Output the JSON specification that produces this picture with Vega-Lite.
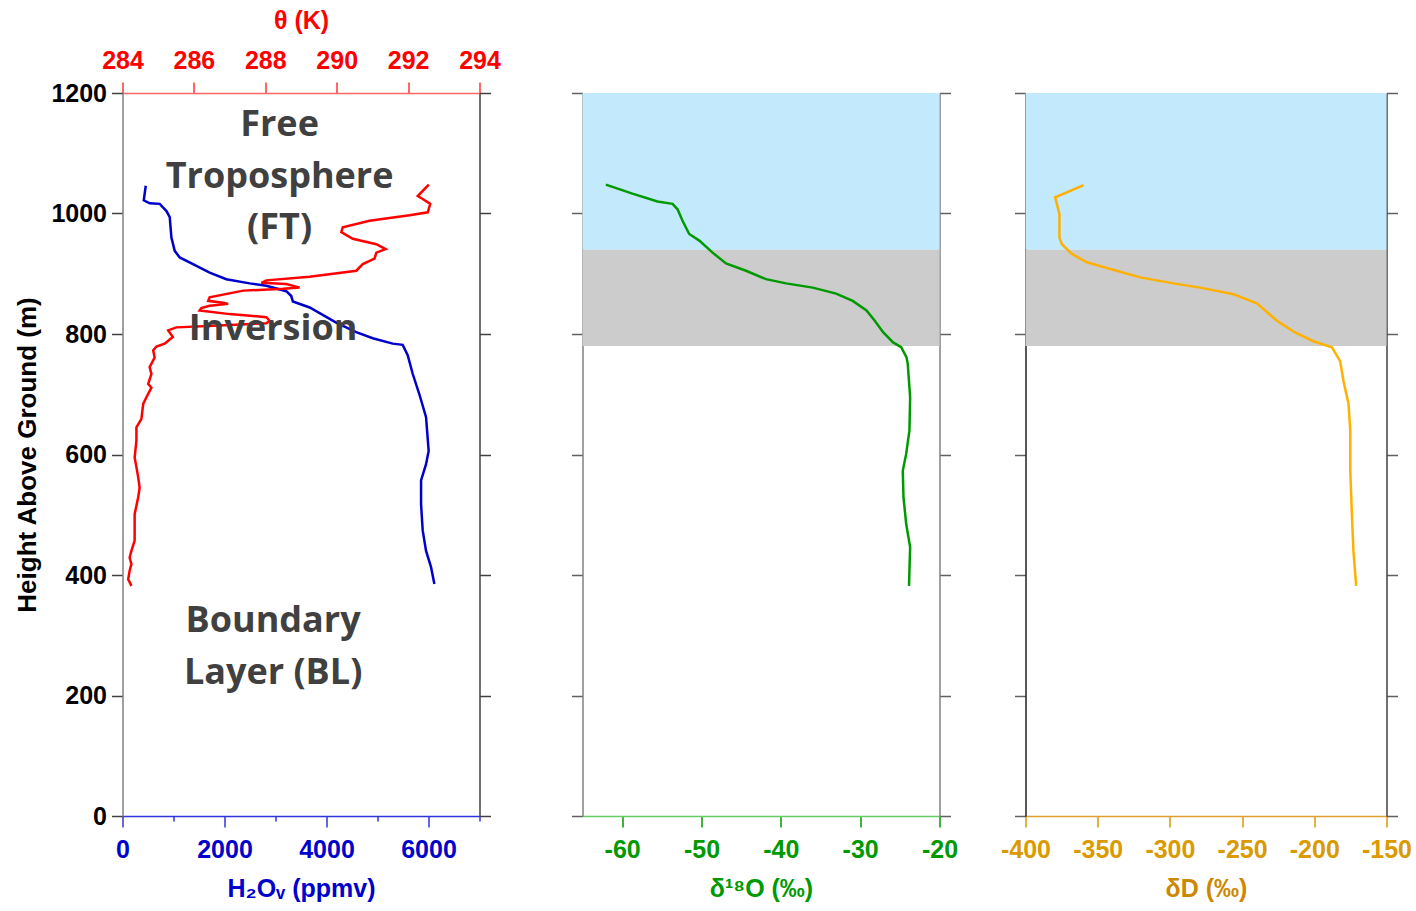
{
  "$schema": "https://vega.github.io/schema/vega-lite/v6.json",
  "background": "white",
  "padding": {"left": 14.5, "top": 8, "right": 5, "bottom": 5},
  "config": {
    "view": {"stroke": null},
    "font": "Liberation Sans",
    "axis": {
      "labelFont": "Liberation Sans", "labelFontWeight": "bold", "labelFontSize": 25,
      "titleFont": "Liberation Sans", "titleFontWeight": "bold", "titleFontSize": 25,
      "grid": false, "tickSize": 11, "domainWidth": 1.5, "tickWidth": 1.5,
      "labelFlush": false, "labelOverlap": false, "labelPadding": 6
    },
    "axisBottom": {"labelPadding": 10, "titlePadding": 14}
  },
  "datasets": {
    "h2o": [
      {"ppmv": 456, "h": 1046}, {"ppmv": 417, "h": 1022}, {"ppmv": 534, "h": 1017}, {"ppmv": 730, "h": 1016},
      {"ppmv": 862, "h": 1004}, {"ppmv": 926, "h": 994}, {"ppmv": 959, "h": 960}, {"ppmv": 1024, "h": 938},
      {"ppmv": 1122, "h": 927}, {"ppmv": 1449, "h": 913}, {"ppmv": 1709, "h": 902}, {"ppmv": 2036, "h": 891},
      {"ppmv": 2493, "h": 884}, {"ppmv": 2820, "h": 880}, {"ppmv": 3211, "h": 871}, {"ppmv": 3309, "h": 863},
      {"ppmv": 3340, "h": 854}, {"ppmv": 3670, "h": 844}, {"ppmv": 4190, "h": 819}, {"ppmv": 4582, "h": 803},
      {"ppmv": 4907, "h": 793}, {"ppmv": 5298, "h": 784}, {"ppmv": 5494, "h": 782}, {"ppmv": 5592, "h": 765},
      {"ppmv": 5690, "h": 734}, {"ppmv": 5821, "h": 700}, {"ppmv": 5952, "h": 662}, {"ppmv": 6003, "h": 606},
      {"ppmv": 5952, "h": 584}, {"ppmv": 5854, "h": 557}, {"ppmv": 5854, "h": 518}, {"ppmv": 5886, "h": 474},
      {"ppmv": 5952, "h": 440}, {"ppmv": 6050, "h": 413}, {"ppmv": 6115, "h": 385}
    ],
    "theta": [
      {"t": 292.58, "h": 1048}, {"t": 292.27, "h": 1029}, {"t": 292.41, "h": 1024}, {"t": 292.62, "h": 1016},
      {"t": 292.55, "h": 1002}, {"t": 292.04, "h": 997}, {"t": 290.92, "h": 988}, {"t": 290.17, "h": 977},
      {"t": 290.13, "h": 969}, {"t": 290.45, "h": 958}, {"t": 291.11, "h": 949}, {"t": 291.37, "h": 941},
      {"t": 291.11, "h": 935}, {"t": 291.06, "h": 925}, {"t": 290.73, "h": 916}, {"t": 290.55, "h": 905},
      {"t": 289.24, "h": 895}, {"t": 288.03, "h": 889}, {"t": 287.89, "h": 885}, {"t": 288.59, "h": 883},
      {"t": 288.96, "h": 877}, {"t": 288.5, "h": 875}, {"t": 287.38, "h": 872}, {"t": 286.44, "h": 861},
      {"t": 286.4, "h": 855}, {"t": 286.82, "h": 852}, {"t": 286.96, "h": 850}, {"t": 286.44, "h": 847},
      {"t": 286.21, "h": 843}, {"t": 286.16, "h": 839}, {"t": 287.0, "h": 833}, {"t": 288.03, "h": 828},
      {"t": 288.12, "h": 822}, {"t": 288.03, "h": 818}, {"t": 286.72, "h": 814}, {"t": 285.51, "h": 811},
      {"t": 285.28, "h": 806}, {"t": 285.41, "h": 795}, {"t": 285.18, "h": 784}, {"t": 284.95, "h": 779},
      {"t": 284.86, "h": 773}, {"t": 284.9, "h": 761}, {"t": 284.76, "h": 745}, {"t": 284.81, "h": 734},
      {"t": 284.72, "h": 717}, {"t": 284.81, "h": 711}, {"t": 284.67, "h": 695}, {"t": 284.58, "h": 684},
      {"t": 284.53, "h": 659}, {"t": 284.39, "h": 645}, {"t": 284.39, "h": 623}, {"t": 284.34, "h": 595},
      {"t": 284.39, "h": 579}, {"t": 284.44, "h": 562}, {"t": 284.48, "h": 545}, {"t": 284.44, "h": 529},
      {"t": 284.34, "h": 501}, {"t": 284.34, "h": 479}, {"t": 284.34, "h": 457}, {"t": 284.25, "h": 440},
      {"t": 284.2, "h": 429}, {"t": 284.25, "h": 418}, {"t": 284.2, "h": 407}, {"t": 284.16, "h": 393},
      {"t": 284.25, "h": 382}
    ],
    "d18o": [
      {"v": -62.06, "h": 1048}, {"v": -58.7, "h": 1033}, {"v": -55.55, "h": 1020}, {"v": -53.65, "h": 1016},
      {"v": -53.02, "h": 1007}, {"v": -52.39, "h": 988}, {"v": -51.55, "h": 966}, {"v": -50.28, "h": 955},
      {"v": -48.6, "h": 935}, {"v": -46.91, "h": 917}, {"v": -44.39, "h": 905}, {"v": -41.87, "h": 891},
      {"v": -39.34, "h": 884}, {"v": -35.98, "h": 877}, {"v": -33.03, "h": 867}, {"v": -30.94, "h": 855},
      {"v": -29.2, "h": 839}, {"v": -28.16, "h": 822}, {"v": -27.11, "h": 803}, {"v": -25.85, "h": 786},
      {"v": -24.83, "h": 778}, {"v": -24.15, "h": 761}, {"v": -24.0, "h": 750}, {"v": -23.7, "h": 695},
      {"v": -23.79, "h": 640}, {"v": -24.2, "h": 601}, {"v": -24.63, "h": 573}, {"v": -24.54, "h": 529},
      {"v": -24.2, "h": 485}, {"v": -23.7, "h": 446}, {"v": -23.79, "h": 407}, {"v": -23.84, "h": 382}
    ],
    "dD": [
      {"v": -359.8, "h": 1047}, {"v": -379.4, "h": 1027}, {"v": -378.3, "h": 1016}, {"v": -376.5, "h": 999},
      {"v": -376.5, "h": 960}, {"v": -374.8, "h": 949}, {"v": -367.9, "h": 933}, {"v": -357.5, "h": 919},
      {"v": -341.3, "h": 908}, {"v": -320.6, "h": 894}, {"v": -297.5, "h": 884}, {"v": -279.0, "h": 877},
      {"v": -256.0, "h": 866}, {"v": -239.8, "h": 851}, {"v": -225.9, "h": 822}, {"v": -213.7, "h": 803},
      {"v": -200.6, "h": 788}, {"v": -187.8, "h": 778}, {"v": -182.1, "h": 755}, {"v": -179.8, "h": 722},
      {"v": -176.3, "h": 684}, {"v": -175.1, "h": 640}, {"v": -175.1, "h": 573}, {"v": -173.9, "h": 496},
      {"v": -172.9, "h": 440}, {"v": -171.0, "h": 382}
    ],
    "bands": [
      {"layer": "FT", "lo": 940, "hi": 1200},
      {"layer": "Inversion", "lo": 780, "hi": 940}
    ],
    "notes": [
      {"label": "Free", "x": 3080, "h": 1147},
      {"label": "Troposphere", "x": 3080, "h": 1061},
      {"label": "(FT)", "x": 3080, "h": 976},
      {"label": "Inversion", "x": 2953, "h": 809},
      {"label": "Boundary", "x": 2953, "h": 323},
      {"label": "Layer (BL)", "x": 2953, "h": 238}
    ]
  },
  "bounds": "flush",
  "spacing": 103,
  "hconcat": [
    {
      "width": 357, "height": 723,
      "layer": [
        {
          "data": {"name": "h2o"},
          "mark": {"type": "line", "color": "#0000CC", "strokeWidth": 2.5},
          "encoding": {
            "x": {"field": "ppmv", "type": "quantitative", "scale": {"domain": [0, 7000], "nice": false},
              "axis": {"orient": "bottom", "values": [0, 1000, 2000, 3000, 4000, 5000, 6000, 7000], "format": "d",
                "labelExpr": "datum.value % 2000 === 0 ? datum.label : ''",
                "tickSize": {"condition": {"test": "datum.value % 2000 === 0", "value": 11}, "value": 5},
                "title": "H₂Oᵥ (ppmv)", "titleColor": "#0000CC", "labelColor": "#0000CC",
                "domainColor": "#3333DD", "tickColor": "#3333DD"}},
            "y": {"field": "h", "type": "quantitative", "scale": {"domain": [0, 1200], "nice": false},
              "axis": {"orient": "left", "values": [0, 200, 400, 600, 800, 1000, 1200], "format": "d",
                "title": "Height Above Ground (m)", "titleFontSize": 26, "titlePadding": 10,
                "domainColor": "#808080", "tickColor": "#404040", "labelColor": "black", "labelPadding": 5}},
            "order": {"field": "h", "type": "quantitative"}
          }
        },
        {
          "data": {"name": "theta"},
          "mark": {"type": "line", "color": "#FF0000", "strokeWidth": 2.5},
          "encoding": {
            "x": {"field": "t", "type": "quantitative", "scale": {"domain": [284, 294], "nice": false, "zero": false},
              "axis": {"orient": "top", "values": [284, 286, 288, 290, 292, 294], "format": "d",
                "title": "θ (K)", "titleColor": "#FF0000", "labelColor": "#FF0000",
                "domainColor": "#FF6666", "tickColor": "#FF3333", "labelPadding": 9, "titlePadding": 15}},
            "y": {"field": "h", "type": "quantitative", "scale": {"domain": [0, 1200], "nice": false},
              "axis": {"orient": "right", "values": [0, 200, 400, 600, 800, 1000, 1200], "labels": false, "title": null,
                "domainColor": "#404040", "tickColor": "#404040"}},
            "order": {"field": "h", "type": "quantitative"}
          }
        },
        {
          "data": {"name": "notes"},
          "mark": {"type": "text", "font": "Open Sans", "fontWeight": "bold", "fontSize": 36, "color": "#404040", "align": "center", "baseline": "middle"},
          "encoding": {
            "x": {"field": "x", "type": "quantitative", "scale": {"domain": [0, 7000], "nice": false}, "axis": null},
            "y": {"field": "h", "type": "quantitative", "scale": {"domain": [0, 1200], "nice": false}, "axis": null},
            "text": {"field": "label"}
          }
        }
      ],
      "resolve": {"scale": {"x": "independent"}, "axis": {"x": "independent", "y": "independent"}}
    },
    {
      "bounds": "flush",
      "spacing": 86,
      "hconcat": [
        {
          "width": 357, "height": 723,
          "layer": [
            {
              "data": {"name": "bands"},
              "mark": {"type": "rect"},
              "encoding": {
                "x": {"datum": -65, "type": "quantitative", "scale": {"domain": [-65, -20], "nice": false}},
                "x2": {"datum": -20},
                "y": {"field": "lo", "type": "quantitative", "scale": {"domain": [0, 1200], "nice": false},
                  "axis": {"orient": "right", "values": [0, 200, 400, 600, 800, 1000, 1200], "labels": false, "title": null,
                    "domainColor": "#808080", "tickColor": "#606060"}},
                "y2": {"field": "hi"},
                "color": {"field": "layer", "type": "nominal", "scale": {"domain": ["FT", "Inversion"], "range": ["#C2E9FC", "#CCCCCC"]}, "legend": null}
              }
            },
            {
              "data": {"name": "d18o"},
              "mark": {"type": "line", "color": "#009900", "strokeWidth": 2.5},
              "encoding": {
                "x": {"field": "v", "type": "quantitative", "scale": {"domain": [-65, -20], "nice": false},
                  "axis": {"orient": "bottom", "values": [-60, -50, -40, -30, -20], "title": "δ¹⁸O (‰)",
                    "labelExpr": "datum.value < 0 ? '-' + abs(datum.value) : '' + datum.value",
                    "titleColor": "#009900", "labelColor": "#009900", "domainColor": "#66CC66", "tickColor": "#009900"}},
                "y": {"field": "h", "type": "quantitative", "scale": {"domain": [0, 1200], "nice": false},
                  "axis": {"orient": "left", "values": [0, 200, 400, 600, 800, 1000, 1200], "labels": false, "title": null,
                    "domainColor": "#808080", "tickColor": "#606060"}},
                "order": {"field": "h", "type": "quantitative"}
              }
            }
          ],
          "resolve": {"axis": {"y": "independent"}}
        },
        {
          "width": 361, "height": 723,
          "layer": [
            {
              "data": {"name": "bands"},
              "mark": {"type": "rect"},
              "encoding": {
                "x": {"datum": -400, "type": "quantitative", "scale": {"domain": [-400, -150], "nice": false}},
                "x2": {"datum": -150},
                "y": {"field": "lo", "type": "quantitative", "scale": {"domain": [0, 1200], "nice": false},
                  "axis": {"orient": "right", "values": [0, 200, 400, 600, 800, 1000, 1200], "labels": false, "title": null,
                    "domainColor": "#404040", "tickColor": "#606060"}},
                "y2": {"field": "hi"},
                "color": {"field": "layer", "type": "nominal", "scale": {"domain": ["FT", "Inversion"], "range": ["#C2E9FC", "#CCCCCC"]}, "legend": null}
              }
            },
            {
              "data": {"name": "dD"},
              "mark": {"type": "line", "color": "#FFB000", "strokeWidth": 2.5},
              "encoding": {
                "x": {"field": "v", "type": "quantitative", "scale": {"domain": [-400, -150], "nice": false},
                  "axis": {"orient": "bottom", "values": [-400, -350, -300, -250, -200, -150], "title": "δD (‰)",
                    "labelExpr": "datum.value < 0 ? '-' + abs(datum.value) : '' + datum.value",
                    "titleColor": "#CC8800", "labelColor": "#DA9A00", "domainColor": "#E0A030", "tickColor": "#DA9A00"}},
                "y": {"field": "h", "type": "quantitative", "scale": {"domain": [0, 1200], "nice": false},
                  "axis": {"orient": "left", "values": [0, 200, 400, 600, 800, 1000, 1200], "labels": false, "title": null,
                    "domainColor": "#202020", "tickColor": "#606060"}},
                "order": {"field": "h", "type": "quantitative"}
              }
            }
          ],
          "resolve": {"axis": {"y": "independent"}}
        }
      ]
    }
  ]
}
